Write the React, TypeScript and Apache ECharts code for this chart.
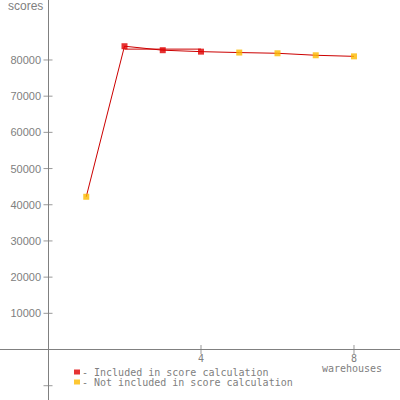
import React, { useEffect, useRef } from "react";
import * as echarts from "echarts";

const warehouses = [1, 2, 3, 4, 5, 6, 7, 8];
const scores = [42200, 83800, 82700, 82300, 82050, 81850, 81300, 81000];
const included = [false, true, true, true, false, false, false, false];
const scoreLineX = [2, 4];
const scoreValue = 83000;
const yLabelValues = [10000, 20000, 30000, 40000, 50000, 60000, 70000, 80000];
const yTickValues = [-10000, 10000, 20000, 30000, 40000, 50000, 60000, 70000, 80000];
const xTickValues = [4, 8];
const legendIncluded = "- Included in score calculation";
const legendExcluded = "- Not included in score calculation";

const GRAY = "#808080";
const RED = "#e00000";
const LINE_RED = "#cc0000";
const ORANGE = "#fdb900";

const X_MIN = -1.255;
const X_MAX = 9.203;
const Y_MIN = -13950;
const Y_MAX = 96570;

export default function App() {
  const ref = useRef<HTMLDivElement>(null);
  useEffect(() => {
    if (!ref.current) return;
    const chart = echarts.init(ref.current, undefined, { renderer: "svg" });
    const lineData = warehouses.map((w, i) => [w, scores[i]]);
    const inc = warehouses.map((w, i) => [w, scores[i]]).filter((_, i) => included[i]);
    const exc = warehouses.map((w, i) => [w, scores[i]]).filter((_, i) => !included[i]);
    chart.setOption({
      animation: false,
      grid: [
        { left: 0, right: 0, top: 0, bottom: 0, containLabel: false, outerBoundsMode: "none" },
        { left: 48, right: 0, top: 0, bottom: 50.5, containLabel: false, outerBoundsMode: "none" },
      ],
      xAxis: [
        {
          type: "value",
          gridIndex: 0,
          min: X_MIN,
          max: X_MAX,
          splitLine: { show: false },
          axisLine: { show: true, onZero: true, lineStyle: { color: GRAY, width: 1 } },
          axisTick: { show: false },
          axisLabel: { show: false },
        },
        {
          type: "value",
          gridIndex: 1,
          min: 0,
          max: X_MAX,
          splitLine: { show: false },
          axisLine: { show: false },
          axisTick: { show: false },
          axisLabel: {
            customValues: xTickValues,
            formatter: (v: number) => String(v),
            margin: 4,
            color: GRAY,
            fontFamily: "DejaVu Sans Mono",
            fontSize: 10,
          },
        },
      ],
      yAxis: [
        {
          type: "value",
          gridIndex: 0,
          min: Y_MIN,
          max: Y_MAX,
          splitLine: { show: false },
          axisLine: { show: true, onZero: true, lineStyle: { color: GRAY, width: 1 } },
          axisTick: { show: false },
          axisLabel: { show: false },
        },
        {
          type: "value",
          gridIndex: 1,
          min: 0,
          max: Y_MAX,
          splitLine: { show: false },
          axisLine: { show: false },
          axisTick: { show: false },
          axisLabel: {
            customValues: yLabelValues,
            formatter: (v: number) => String(v),
            margin: 7,
            color: GRAY,
            fontFamily: "Liberation Sans",
            fontSize: 11,
          },
        },
      ],
      legend: {
        orient: "vertical",
        left: 74,
        top: 367,
        padding: 0,
        itemGap: 0,
        itemWidth: 6,
        itemHeight: 5,
        icon: "rect",
        selectedMode: false,
        data: [legendIncluded, legendExcluded],
        textStyle: {
          color: GRAY,
          fontFamily: "DejaVu Sans Mono",
          fontSize: 10,
          lineHeight: 9,
          padding: [0, 0, 0, -3],
        },
      },
      graphic: [
        {
          type: "text",
          left: 8,
          top: 0,
          style: { text: "scores", fill: GRAY, font: "12px 'Liberation Sans'" },
        },
        {
          type: "text",
          x: 352,
          y: 368,
          style: {
            text: "warehouses",
            fill: GRAY,
            font: "10px 'DejaVu Sans Mono'",
            align: "center",
            verticalAlign: "middle",
          },
        },
      ],
      series: [
        {
          type: "scatter",
          silent: true,
          symbol: "rect",
          symbolSize: [9, 1],
          itemStyle: { color: GRAY },
          data: yTickValues.map((v) => [0, v]),
          z: 1,
        },
        {
          type: "scatter",
          silent: true,
          symbol: "rect",
          symbolSize: [1, 9],
          itemStyle: { color: GRAY },
          data: xTickValues.map((v) => [v, 0]),
          z: 1,
        },
        {
          type: "line",
          silent: true,
          showSymbol: false,
          lineStyle: { color: LINE_RED, width: 1 },
          data: lineData,
          z: 2,
        },
        {
          type: "line",
          silent: true,
          showSymbol: false,
          lineStyle: { color: LINE_RED, width: 1 },
          data: scoreLineX.map((x) => [x, scoreValue]),
          z: 2,
        },
        {
          name: legendIncluded,
          type: "scatter",
          silent: true,
          symbol: "rect",
          symbolSize: 6,
          itemStyle: { color: RED },
          data: inc,
          z: 3,
        },
        {
          name: legendExcluded,
          type: "scatter",
          silent: true,
          symbol: "rect",
          symbolSize: 6,
          itemStyle: { color: ORANGE },
          data: exc,
          z: 3,
        },
      ],
    });
    return () => chart.dispose();
  }, []);
  return (
    <div
      ref={ref}
      style={{ position: "fixed", left: 0, top: 0, width: 400, height: 400, background: "#fff" }}
    />
  );
}
